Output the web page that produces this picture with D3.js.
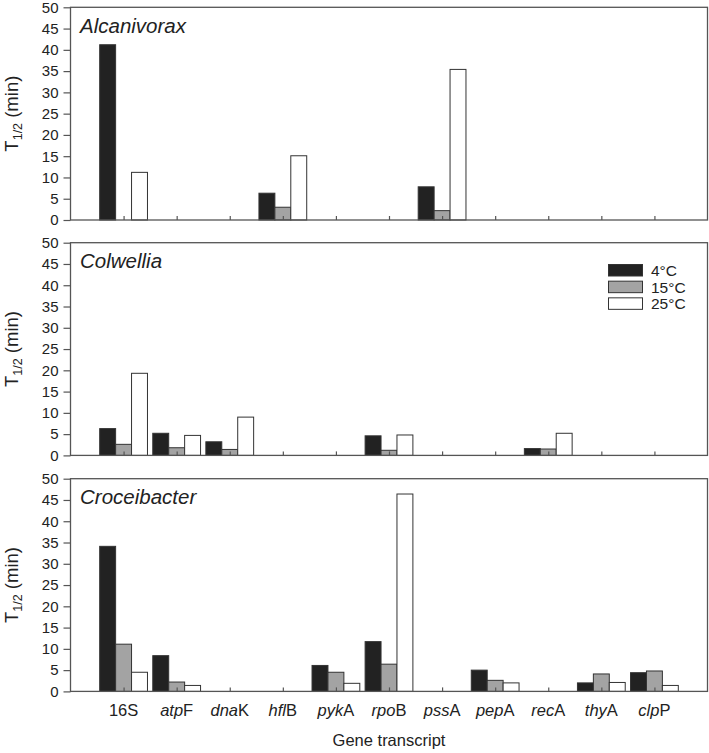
<!DOCTYPE html>
<html>
<head>
<meta charset="utf-8">
<script src="https://cdn.jsdelivr.net/npm/d3@7/dist/d3.min.js"></script>
<style>
  html, body { margin: 0; padding: 0; background: #fff; }
  svg { display: block; font-family: Arial, "Liberation Sans", Helvetica, sans-serif; }
</style>
</head>
<body>
<svg id="chart" width="709" height="753"></svg>
<script>
// ---- data ----
const categories = ["16S","atpF","dnaK","hflB","pykA","rpoB","pssA","pepA","recA","thyA","clpP"];
// label parts: [italic part, roman part]
const categoryItalic = ["", "atp", "dna", "hfl", "pyk", "rpo", "pss", "pep", "rec", "thy", "clp"];
const categoryRoman  = ["16S", "F", "K", "B", "A", "B", "A", "A", "A", "A", "P"];
const seriesNames = ["4°C", "15°C", "25°C"];
const yTicks = [0, 5, 10, 15, 20, 25, 30, 35, 40, 45, 50];
const panelNames = ["Alcanivorax", "Colwellia", "Croceibacter"];

const alcanivorax4  = [41.2, null, null, 6.3, null, null, 7.8, null, null, null, null];
const alcanivorax15 = [null, null, null, 3.0, null, null, 2.2, null, null, null, null];
const alcanivorax25 = [11.2, null, null, 15.1, null, null, 35.4, null, null, null, null];

const colwellia4  = [6.3, 5.2, 3.2, null, null, 4.6, null, null, 1.6, null, null];
const colwellia15 = [2.6, 1.8, 1.4, null, null, 1.2, null, null, 1.5, null, null];
const colwellia25 = [19.3, 4.7, 9.0, null, null, 4.8, null, null, 5.2, null, null];

const croceibacter4  = [34.1, 8.4, null, null, 6.1, 11.7, null, 5.0, null, 2.0, 4.4];
const croceibacter15 = [11.1, 2.2, null, null, 4.5, 6.4, null, 2.6, null, 4.1, 4.8];
const croceibacter25 = [4.5, 1.4, null, null, 1.9, 46.4, null, 2.0, null, 2.1, 1.4];

const panelSeries = [
  [alcanivorax4, alcanivorax15, alcanivorax25],
  [colwellia4, colwellia15, colwellia25],
  [croceibacter4, croceibacter15, croceibacter25]
];

// ---- layout ----
const fills = ["#222222", "#a3a3a3", "#ffffff"];
const axisColor = "#555555";
const textColor = "#222222";
const left = 70.5, right = 707.5;
const panelTops = [7.3, 242.7, 478.7];
const panelH = 212.7;

const svg = d3.select("#chart");

const x = d3.scalePoint().domain(categories).range([left, right]).padding(1);
const groupW = x.step() * 0.9;
const xs = d3.scaleBand().domain(seriesNames).range([-groupW / 2, groupW / 2]);

panelSeries.forEach((series, p) => {
  const top = panelTops[p], bottom = top + panelH;
  const y = d3.scaleLinear().domain([0, 50]).range([bottom, top]);
  const g = svg.append("g");

  // bars
  series.forEach((vals, s) => {
    g.selectAll(null)
      .data(categories.map((c, i) => ({ c, v: vals[i] })).filter(d => d.v != null && d.v > 0))
      .enter().append("rect")
      .attr("x", d => x(d.c) + xs(seriesNames[s]))
      .attr("y", d => y(d.v))
      .attr("width", xs.bandwidth())
      .attr("height", d => y(0) - y(d.v))
      .attr("fill", fills[s])
      .attr("stroke", "#333")
      .attr("stroke-width", 1);
  });

  // frame
  g.append("rect")
    .attr("x", left).attr("y", top)
    .attr("width", right - left).attr("height", panelH)
    .attr("fill", "none").attr("stroke", axisColor).attr("stroke-width", 1.3);

  // y axis
  const ya = g.append("g").attr("transform", `translate(${left},0)`)
    .call(d3.axisLeft(y).tickValues(yTicks).tickSize(7).tickPadding(5));
  ya.select(".domain").remove();
  ya.selectAll(".tick line").attr("stroke", axisColor).attr("stroke-width", 1.2);
  ya.selectAll(".tick text").attr("fill", textColor).style("font-size", "15px")
    .style("font-family", "Arial, 'Liberation Sans', sans-serif");

  // x axis ticks (inward)
  const xa = g.append("g").attr("transform", `translate(0,${bottom})`)
    .call(d3.axisBottom(x).tickSize(-4).tickFormat(""));
  xa.select(".domain").remove();
  xa.selectAll(".tick line").attr("stroke", axisColor).attr("stroke-width", 1.2);

  // panel title
  g.append("text")
    .attr("x", 80).attr("y", top + 25.3)
    .attr("fill", textColor)
    .style("font-size", "20.5px").style("font-style", "italic")
    .text(panelNames[p]);

  // y label
  const yl = g.append("text")
    .attr("transform", `translate(18,${(top + bottom) / 2}) rotate(-90)`)
    .attr("text-anchor", "middle")
    .attr("fill", textColor)
    .style("font-size", "18.5px");
  yl.append("tspan").text("T");
  yl.append("tspan").attr("dy", 4).style("font-size", "12.5px").text("1/2");
  yl.append("tspan").attr("dy", -4).text(" (min)");
});

// x labels
categories.forEach((c, i) => {
  const t = svg.append("text")
    .attr("x", x(c)).attr("y", 716)
    .attr("text-anchor", "middle")
    .attr("fill", textColor)
    .style("font-size", "16.5px");
  if (categoryItalic[i]) t.append("tspan").style("font-style", "italic").text(categoryItalic[i]);
  t.append("tspan").text(categoryRoman[i]);
});

svg.append("text")
  .attr("x", (left + right) / 2).attr("y", 746)
  .attr("text-anchor", "middle")
  .attr("fill", textColor)
  .style("font-size", "16.5px")
  .text("Gene transcript");

// legend (in middle panel)
const legendY = d3.scaleBand().domain(seriesNames).range([264.5, 314.5]);
const leg = svg.append("g");
seriesNames.forEach((s, i) => {
  leg.append("rect")
    .attr("x", 608.5).attr("y", legendY(s))
    .attr("width", 34).attr("height", 11.5)
    .attr("fill", fills[i]).attr("stroke", "#333").attr("stroke-width", 1);
  leg.append("text")
    .attr("x", 651).attr("y", legendY(s) + 11.5)
    .attr("fill", textColor)
    .style("font-size", "15.5px")
    .text(s);
});
</script>
</body>
</html>
